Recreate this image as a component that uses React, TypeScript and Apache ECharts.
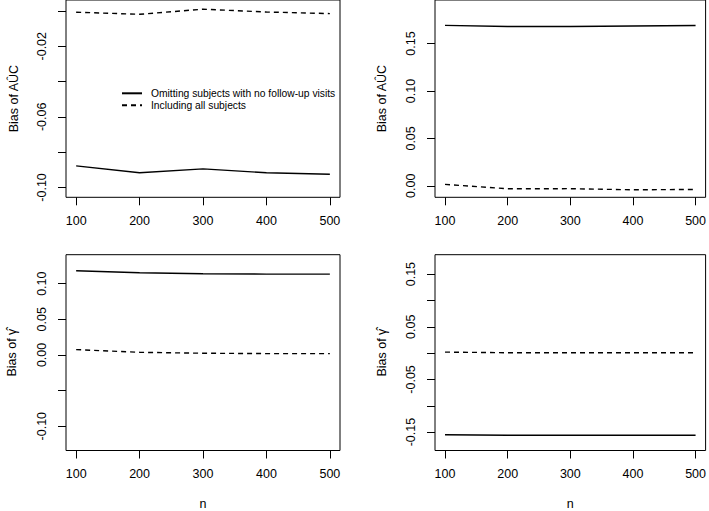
import React, { useEffect, useRef } from "react";
import * as echarts from "echarts";

// Sample sizes on the horizontal axis
const sampleSizes = [100, 200, 300, 400, 500];

// Series names (shared by all four panels)
const omitName = "Omitting subjects with no follow-up visits";
const allName = "Including all subjects";

// Panel 1: bias of AUC-hat, first scenario
const auc1Omit = [-0.0878, -0.0917, -0.0895, -0.0917, -0.0925];
const auc1All = [-0.0007, -0.0019, 0.001, -0.0006, -0.0015];

// Panel 2: bias of AUC-hat, second scenario
const auc2Omit = [0.1691, 0.168, 0.168, 0.1685, 0.169];
const auc2All = [0.0015, -0.0031, -0.003, -0.0042, -0.0038];

// Panel 3: bias of gamma-hat, first scenario
const gam1Omit = [0.1181, 0.1153, 0.114, 0.1135, 0.1135];
const gam1All = [0.0075, 0.0037, 0.0024, 0.0019, 0.0019];

// Panel 4: bias of gamma-hat, second scenario
const gam2Omit = [-0.155, -0.156, -0.156, -0.156, -0.156];
const gam2All = [0.0019, 0.0007, 0.0007, 0.0007, 0.0007];

// Tick positions and the subset of ticks that carry a label
const xTicks = [100, 200, 300, 400, 500];
const y1Ticks = [-0.1, -0.08, -0.06, -0.04, -0.02, 0];
const y1Labels = [-0.1, -0.06, -0.02];
const y2Ticks = [0, 0.05, 0.1, 0.15];
const y2Labels = [0, 0.05, 0.1, 0.15];
const y3Ticks = [-0.1, -0.05, 0, 0.05, 0.1];
const y3Labels = [-0.1, 0, 0.05, 0.1];
const y4Ticks = [-0.15, -0.1, -0.05, 0, 0.05, 0.1, 0.15];
const y4Labels = [-0.15, -0.05, 0.05, 0.15];

const FONT = "Liberation Sans, Arial, Helvetica, sans-serif";
const FS = 12.5;

const panels = [
  { left: 66, top: -2, width: 274, height: 199.3, yMin: -0.1056, yMax: 0.0062, ticks: y1Ticks, labels: y1Labels, title: "Bias of A\u00DBC", xName: "", omit: auc1Omit, all: auc1All, nameGap: 46 },
  { left: 435, top: -2, width: 273, height: 199.3, yMin: -0.0121, yMax: 0.1959, ticks: y2Ticks, labels: y2Labels, title: "Bias of A\u00DBC", xName: "", omit: auc2Omit, all: auc2All, nameGap: 47 },
  { left: 66, top: 254.7, width: 274, height: 197.3, yMin: -0.1341, yMax: 0.1407, ticks: y3Ticks, labels: y3Labels, title: "Bias of \u03B3\u0302", xName: "n", omit: gam1Omit, all: gam1All, nameGap: 48 },
  { left: 435, top: 254.7, width: 273, height: 197, yMin: -0.1849, yMax: 0.1868, ticks: y4Ticks, labels: y4Labels, title: "Bias of \u03B3\u0302", xName: "n", omit: gam2Omit, all: gam2All, nameGap: 47 },
];

export default function App() {
  const ref = useRef<HTMLDivElement>(null);

  useEffect(() => {
    if (!ref.current) return;
    const chart = echarts.init(ref.current, undefined, { renderer: "svg" });

    const grid = panels.map((p) => ({
      left: p.left,
      top: p.top,
      width: p.width,
      height: p.height,
      show: true,
      borderColor: "#000",
      borderWidth: 1,
      backgroundColor: "transparent",
      containLabel: false,
    }));

    const xAxis = panels.map((p, i) => ({
      type: "value",
      gridIndex: i,
      position: "bottom",
      min: 84,
      max: 516,
      name: p.xName,
      nameLocation: "middle",
      nameGap: 46.5,
      nameTextStyle: { fontFamily: FONT, fontSize: FS, color: "#000" },
      axisLine: { show: false, onZero: false },
      splitLine: { show: false },
      axisTick: { show: true, inside: false, length: 8, customValues: xTicks, lineStyle: { color: "#000", width: 1 } },
      axisLabel: {
        show: true,
        customValues: xTicks,
        margin: 17,
        fontFamily: FONT,
        fontSize: FS,
        color: "#000",
        formatter: (v: number) => String(Math.round(v)),
      },
    }));

    const yAxis = panels.map((p, i) => ({
      type: "value",
      gridIndex: i,
      position: "left",
      min: p.yMin,
      max: p.yMax,
      name: p.title,
      nameLocation: "middle",
      nameGap: p.nameGap,
      nameTextStyle: { fontFamily: FONT, fontSize: FS, color: "#000" },
      axisLine: { show: false, onZero: false },
      splitLine: { show: false },
      axisTick: { show: true, inside: false, length: 8, customValues: p.ticks, lineStyle: { color: "#000", width: 1 } },
      axisLabel: {
        show: true,
        customValues: p.labels,
        rotate: 90,
        margin: 18,
        fontFamily: FONT,
        fontSize: FS,
        color: "#000",
        formatter: (v: number) => v.toFixed(2),
      },
    }));

    const series: any[] = [];
    panels.forEach((p, i) => {
      series.push({
        type: "line",
        name: omitName,
        xAxisIndex: i,
        yAxisIndex: i,
        data: sampleSizes.map((n, k) => [n, p.omit[k]]),
        symbol: "none",
        color: "#000",
        lineStyle: { color: "#000", width: 1.4, type: "solid" },
      });
      series.push({
        type: "line",
        name: allName,
        xAxisIndex: i,
        yAxisIndex: i,
        data: sampleSizes.map((n, k) => [n, p.all[k]]),
        symbol: "none",
        color: "#000",
        lineStyle: { color: "#000", width: 1.4, type: [5, 4] },
      });
    });

    chart.setOption({
      animation: false,
      backgroundColor: "#fff",
      textStyle: { fontFamily: FONT },
      legend: {
        data: [omitName, allName],
        orient: "vertical",
        left: 121,
        top: 87.3,
        padding: 0,
        itemGap: 0,
        itemWidth: 20,
        itemHeight: 12,
        selectedMode: false,
        itemStyle: { opacity: 0 },
        textStyle: { fontFamily: FONT, fontSize: 10.3, color: "#000", lineHeight: 12, padding: [0, 0, 0, 4] },
      },
      grid,
      xAxis,
      yAxis,
      series,
    });

    return () => chart.dispose();
  }, []);

  return (
    <div
      ref={ref}
      style={{ position: "absolute", left: 0, top: 0, width: 709, height: 511 }}
    />
  );
}
